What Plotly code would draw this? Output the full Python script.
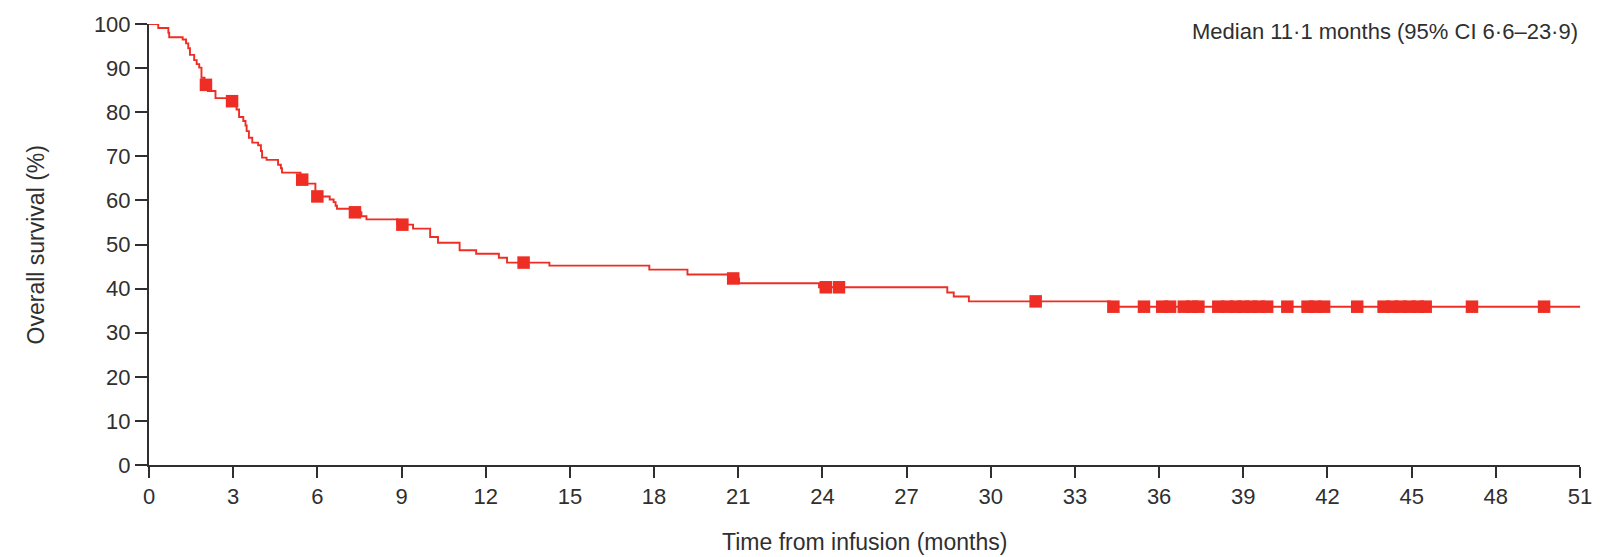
import numpy as np
import plotly.graph_objects as go

# Kaplan-Meier step function: times (months) at which survival changes, and survival (%) after each step
event_times = [0, 0.33, 0.69, 0.72, 1.20, 1.32, 1.40, 1.46, 1.61, 1.70, 1.79, 1.87, 1.98, 2.10, 2.37,
               2.90, 3.12, 3.21, 3.36, 3.44, 3.48, 3.56, 3.68, 3.89, 3.99, 4.03, 4.19, 4.60, 4.70, 4.74,
               5.40, 5.52, 5.93, 6.44, 6.58, 6.65, 6.70, 7.30, 7.57, 7.75, 8.85, 9.41, 10.02, 10.30,
               11.07, 11.66, 12.47, 12.76, 14.27, 17.83, 19.19, 20.75, 21.03, 23.88, 28.45, 28.68,
               29.22, 34.25]
survival = [100, 99.1, 98.0, 97.0, 96.5, 95.6, 94.5, 93.0, 91.8, 90.9, 90.1, 87.8, 86.2, 84.8, 83.2,
            82.5, 80.6, 78.9, 78.0, 77.0, 75.7, 74.2, 73.1, 72.5, 71.2, 69.7, 69.2, 68.1, 67.3, 66.3,
            64.7, 63.8, 60.9, 60.2, 59.6, 58.8, 58.1, 57.3, 56.4, 55.7, 54.5, 53.6, 51.7, 50.4,
            48.7, 47.9, 47.0, 45.9, 45.2, 44.3, 43.2, 42.3, 41.2, 40.3, 39.1, 38.2,
            37.1, 35.9]
follow_up_end = 51.0

# Censored observations (months)
censor_times = [2.03, 2.96, 5.46, 6.00, 7.34, 9.03, 13.35, 20.82, 24.12, 24.59, 31.6,
                34.37, 35.46, 36.11, 36.39, 36.88, 37.17, 37.40,
                38.11, 38.43, 38.73, 39.00, 39.27, 39.55, 39.85, 40.57,
                41.29, 41.56, 41.88, 43.06, 44.00, 44.31, 44.61, 44.92, 45.22, 45.50,
                47.15, 49.72]

x_ticks = list(range(0, 52, 3))
y_ticks = list(range(0, 101, 10))

median_text = "Median 11·1 months (95% CI 6·6–23·9)"
x_title = "Time from infusion (months)"
y_title = "Overall survival (%)"

RED = "#EE2E24"
INK = "#2f2f2f"
FONT = "Liberation Sans, Arial, sans-serif"

et = np.array(event_times)
sv = np.array(survival)
idx = np.searchsorted(et, np.array(censor_times), side="right") - 1
censor_surv = sv[idx]

fig = go.Figure()
fig.add_trace(go.Scatter(
    x=event_times + [follow_up_end], y=survival + [survival[-1]],
    mode="lines", line=dict(color=RED, width=1.9, shape="hv"),
    showlegend=False, hoverinfo="skip"))
fig.add_trace(go.Scatter(
    x=censor_times, y=censor_surv, mode="markers",
    marker=dict(symbol="square", size=12.5, color=RED, line=dict(width=0)),
    showlegend=False, cliponaxis=False))

fig.update_layout(
    width=1604, height=557,
    margin=dict(l=149, r=21, t=20, b=92, pad=0),
    paper_bgcolor="white", plot_bgcolor="white",
    font=dict(family=FONT, size=22, color=INK),
    xaxis=dict(range=[0, 51], tickvals=x_ticks, ticktext=[str(v) for v in x_ticks],
               showgrid=False, zeroline=False, showline=True, linecolor=INK, linewidth=2,
               ticks="outside", ticklen=11, tickwidth=2, tickcolor=INK,
               tickfont=dict(size=22, color=INK)),
    yaxis=dict(range=[0, 100], tickvals=y_ticks, ticktext=[str(v) for v in y_ticks],
               showgrid=False, zeroline=False, showline=True, linecolor=INK, linewidth=2,
               ticks="outside", ticklen=12, tickwidth=2, tickcolor=INK,
               tickfont=dict(size=22, color=INK)),
    annotations=[
        dict(text=median_text, xref="paper", yref="paper", x=1.0, y=0.984,
             xanchor="right", yanchor="middle", showarrow=False,
             font=dict(size=22, color=INK)),
        dict(text=x_title, xref="paper", yref="paper", x=0.5, y=-0.175,
             xanchor="center", yanchor="middle", showarrow=False,
             font=dict(size=23, color=INK)),
        dict(text=y_title, xref="paper", yref="paper", x=-0.079, y=0.5,
             xanchor="center", yanchor="middle", textangle=-90, showarrow=False,
             font=dict(size=23, color=INK)),
    ],
)

fig.write_html("out.html")
